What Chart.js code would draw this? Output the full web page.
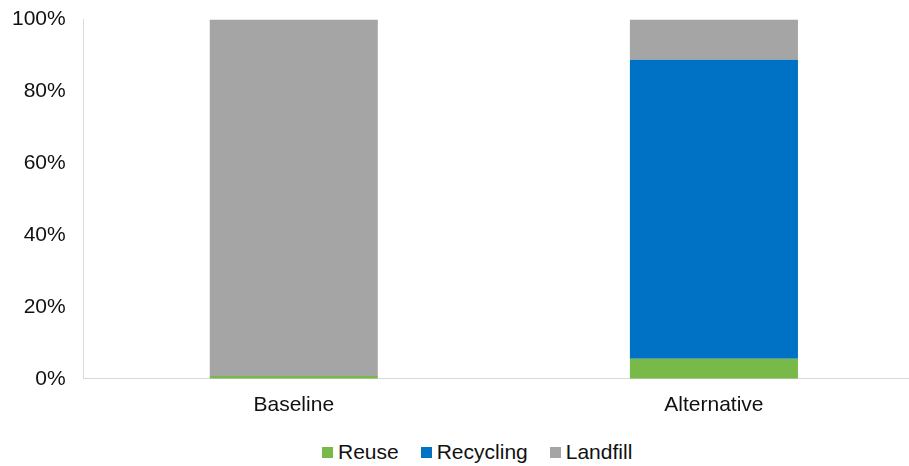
<!DOCTYPE html>
<html>
<head>
<meta charset="utf-8">
<script src="https://cdn.jsdelivr.net/npm/chart.js@4/dist/chart.umd.min.js"></script>
<style>
  html, body { margin: 0; padding: 0; background: #fff; overflow: hidden; width: 909px; height: 466px; }
  #wrap { width: 924px; height: 445px; position: absolute; left: 0; top: -11px; }
  #legend { position: absolute; left: 322px; top: 440px; display: flex; gap: 22px;
            font: 21px "Liberation Sans", Arial, sans-serif; line-height: 24px; color: #111; }
  #legend .item { display: flex; align-items: center; }
  #legend .box { width: 11px; height: 11px; margin-right: 5px; }
</style>
</head>
<body>
<div id="wrap"><canvas id="wasteChart"></canvas></div>
<div id="legend"></div>
<script>
  const categories = ['Baseline', 'Alternative'];
  const reuse = [0.8, 5.6];
  const recycling = [0, 83.2];
  const landfill = [99.2, 11.2];
  const yTicks = [0, 20, 40, 60, 80, 100];

  const textColor = '#111';
  const axisColor = '#d9d9d9';
  Chart.defaults.font.family = '"Liberation Sans", Arial, sans-serif';
  Chart.defaults.font.size = 21;
  Chart.defaults.color = textColor;

  const ctx = document.getElementById('wasteChart').getContext('2d');
  const chart = new Chart(ctx, {
    type: 'bar',
    data: {
      labels: categories,
      datasets: [
        { label: 'Reuse', data: reuse, backgroundColor: '#78b94a' },
        { label: 'Recycling', data: recycling, backgroundColor: '#0072c6' },
        { label: 'Landfill', data: landfill, backgroundColor: '#a5a5a5' }
      ]
    },
    options: {
      responsive: true,
      maintainAspectRatio: false,
      animation: false,
      datasets: {
        bar: { barPercentage: 0.4, categoryPercentage: 1, borderWidth: 0 }
      },
      layout: { padding: { left: -6, top: 0, right: 0, bottom: 2 } },
      plugins: {
        legend: { display: false },
        tooltip: { enabled: false }
      },
      scales: {
        x: {
          stacked: true,
          grid: { display: false, drawTicks: false },
          border: { color: axisColor, width: 1 },
          ticks: { padding: 14 }
        },
        y: {
          stacked: true,
          min: 0,
          max: 100,
          afterBuildTicks: (scale) => { scale.ticks = yTicks.map(v => ({ value: v })); },
          grid: { display: false, drawTicks: false },
          border: { color: axisColor, width: 1 },
          ticks: { padding: 18, callback: (v) => v + '%' }
        }
      }
    }
  });

  // legend built from the chart's datasets
  const legendEl = document.getElementById('legend');
  chart.data.datasets.forEach(ds => {
    const item = document.createElement('div');
    item.className = 'item';
    const box = document.createElement('span');
    box.className = 'box';
    box.style.background = ds.backgroundColor;
    const label = document.createElement('span');
    label.textContent = ds.label;
    item.appendChild(box);
    item.appendChild(label);
    legendEl.appendChild(item);
  });
</script>
</body>
</html>
